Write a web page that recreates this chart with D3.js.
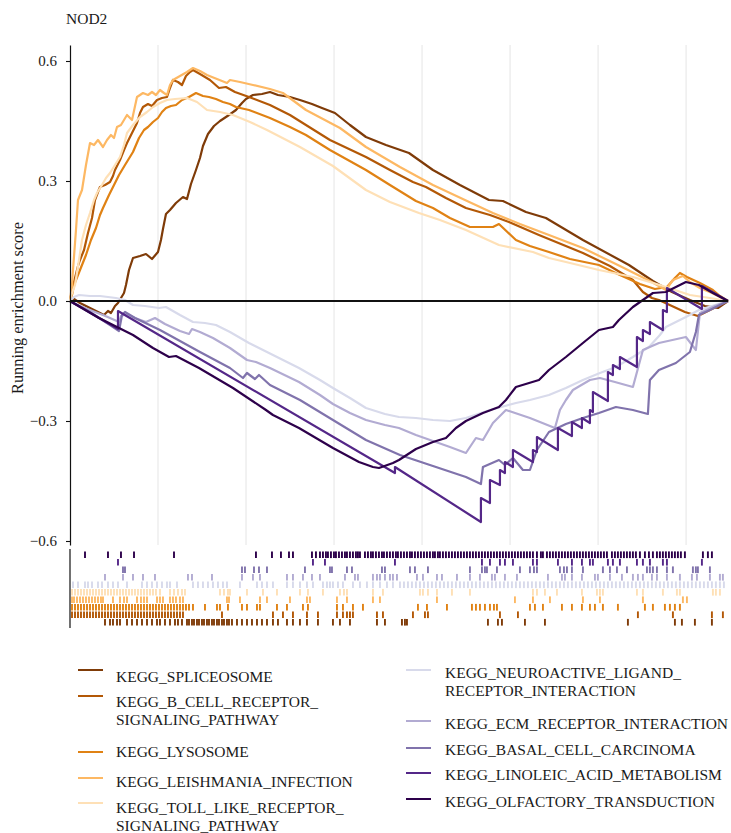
<!DOCTYPE html>
<html>
<head>
<meta charset="utf-8">
<script src="https://cdn.jsdelivr.net/npm/d3@7"></script>
<style>
    body { margin: 0; background: #fff; }
    svg text { font-family: "Liberation Serif", "DejaVu Serif", serif; fill: #1a1a1a; }
</style>
</head>
<body>
<div id="chart"></div>
<script>
/* GSEA RUNNING ENRICHMENT SCORE PLOT FOR NOD2 */
const chartTitle = "NOD2";
const yTitle = "Running enrichment score";
const geneCount = 18690;
const gridRanks = [2500, 5000, 7500, 10000, 12500, 15000, 17500];
const esTicks = [0.6, 0.3, 0, -0.3, -0.6];

const pathways = [
    "KEGG_SPLICEOSOME",
    "KEGG_B_CELL_RECEPTOR_SIGNALING_PATHWAY",
    "KEGG_LYSOSOME",
    "KEGG_LEISHMANIA_INFECTION",
    "KEGG_TOLL_LIKE_RECEPTOR_SIGNALING_PATHWAY",
    "KEGG_NEUROACTIVE_LIGAND_RECEPTOR_INTERACTION",
    "KEGG_ECM_RECEPTOR_INTERACTION",
    "KEGG_BASAL_CELL_CARCINOMA",
    "KEGG_LINOLEIC_ACID_METABOLISM",
    "KEGG_OLFACTORY_TRANSDUCTION"
];
const legendLabels = [
    ["KEGG_SPLICEOSOME"],
    ["KEGG_B_CELL_RECEPTOR_", "SIGNALING_PATHWAY"],
    ["KEGG_LYSOSOME"],
    ["KEGG_LEISHMANIA_INFECTION"],
    ["KEGG_TOLL_LIKE_RECEPTOR_", "SIGNALING_PATHWAY"],
    ["KEGG_NEUROACTIVE_LIGAND_", "RECEPTOR_INTERACTION"],
    ["KEGG_ECM_RECEPTOR_INTERACTION"],
    ["KEGG_BASAL_CELL_CARCINOMA"],
    ["KEGG_LINOLEIC_ACID_METABOLISM"],
    ["KEGG_OLFACTORY_TRANSDUCTION"]
];
const pathwayColors = ["#7f3b08", "#b35806", "#e08214", "#fdb863", "#fee0b6",
                       "#d8daeb", "#b2abd2", "#8073ac", "#542788", "#2d004b"];

// Running enrichment score: [gene rank, ES]
const esSpliceosome = [[0,0],[114,0.005],[284,-0.005],[568,-0.0175],[852,-0.03],[966,-0.035],[1079,-0.025],[1164,-0.03],[1278,-0.0125],[1363,-0.005],[1448,0.0075],[1534,0.02],[1590,0.04],[1676,0.0775],[1789,0.1075],[1988,0.1125],[2158,0.1175],[2329,0.105],[2499,0.1225],[2584,0.1525],[2641,0.18],[2726,0.2175],[2840,0.2275],[3010,0.245],[3209,0.26],[3323,0.255],[3436,0.2925],[3578,0.3275],[3692,0.3575],[3777,0.3875],[3919,0.4175],[4090,0.4375],[4260,0.45],[4516,0.465],[4714,0.4775],[4885,0.495],[4998,0.505],[5197,0.515],[5453,0.5175],[5680,0.5225],[5907,0.515],[6248,0.51],[6532,0.5025],[6873,0.4925],[7157,0.4825],[7526,0.47],[7952,0.44],[8406,0.41],[8974,0.39],[9628,0.37],[10309,0.3275],[11076,0.29],[11900,0.2525],[12297,0.25],[12950,0.2225],[13518,0.2075],[14569,0.1525],[15876,0.09],[16557,0.05],[17097,0.0225],[17608,0.0025],[18034,-0.0125],[18403,-0.0175],[18690,0]];
const esBCell = [[0,0],[57,0.0275],[142,0.0575],[227,0.0875],[284,0.1025],[398,0.1275],[511,0.17],[625,0.2075],[710,0.2525],[795,0.2725],[852,0.285],[994,0.29],[1136,0.2975],[1221,0.3125],[1278,0.3275],[1420,0.3525],[1534,0.3775],[1619,0.395],[1761,0.42],[1903,0.445],[1988,0.47],[2073,0.485],[2215,0.4925],[2329,0.4875],[2471,0.5025],[2613,0.5075],[2755,0.51],[2840,0.5325],[2925,0.5525],[3067,0.5475],[3181,0.54],[3294,0.5625],[3408,0.5725],[3493,0.5775],[3692,0.5675],[3976,0.5525],[4232,0.5325],[4430,0.535],[4686,0.5225],[5084,0.51],[5680,0.49],[6248,0.465],[6702,0.44],[7384,0.4025],[8406,0.36],[9088,0.3275],[9741,0.2975],[10110,0.285],[10678,0.2575],[11246,0.2325],[11928,0.215],[12468,0.1975],[13320,0.165],[14569,0.12],[15336,0.0875],[15989,0.0525],[16273,0.0225],[16529,0.0075],[16728,0.0025],[17097,-0.0125],[17466,-0.0275],[17835,-0.0375],[18176,-0.0225],[18690,0]];
const esLysosome = [[0,0],[57,0.015],[114,0.04],[284,0.0775],[454,0.115],[596,0.1525],[738,0.1825],[852,0.215],[937,0.2325],[1108,0.265],[1250,0.29],[1392,0.315],[1562,0.34],[1789,0.3725],[1960,0.4075],[2102,0.4275],[2215,0.435],[2357,0.4475],[2499,0.4575],[2613,0.4725],[2726,0.4825],[2868,0.4875],[3010,0.49],[3181,0.5025],[3380,0.51],[3578,0.52],[3777,0.5125],[3948,0.51],[4146,0.505],[4345,0.4975],[4544,0.4925],[4714,0.485],[5084,0.4775],[5680,0.4575],[6248,0.435],[6702,0.415],[7384,0.3775],[8406,0.3275],[9088,0.29],[9826,0.25],[10309,0.2325],[10792,0.2075],[11360,0.185],[12013,0.185],[12184,0.1925],[12666,0.1525],[13064,0.1375],[13604,0.1225],[14200,0.105],[15024,0.09],[15620,0.065],[16188,0.0425],[16614,0.03],[16955,0.035],[17182,0.0575],[17324,0.07],[17523,0.06],[17892,0.045],[18261,0.0275],[18460,0.0125],[18690,0]];
const esLeishmania = [[0,0],[57,0.04],[85,0.0775],[170,0.1775],[227,0.2525],[341,0.2775],[454,0.34],[568,0.395],[682,0.39],[795,0.4025],[937,0.385],[1051,0.4025],[1164,0.415],[1250,0.4075],[1335,0.435],[1448,0.44],[1619,0.465],[1761,0.4525],[1903,0.51],[2073,0.52],[2215,0.515],[2329,0.5225],[2442,0.515],[2556,0.5275],[2670,0.52],[2755,0.515],[2840,0.54],[2925,0.5525],[3124,0.5625],[3323,0.5725],[3493,0.5825],[3692,0.575],[3891,0.565],[4175,0.555],[4459,0.545],[4544,0.5525],[4828,0.5475],[5197,0.54],[5680,0.53],[6049,0.52],[6702,0.4775],[7668,0.4325],[8406,0.385],[9372,0.335],[10309,0.29],[11218,0.2525],[12013,0.22],[12780,0.1925],[13604,0.165],[14569,0.1325],[15620,0.0875],[16472,0.05],[16926,0.0275],[17125,0.0525],[17409,0.0625],[17608,0.0475],[17892,0.0325],[18233,0.02],[18460,0.01],[18690,0]];
const esToll = [[0,0],[57,0.02],[142,0.04],[256,0.1025],[341,0.1525],[454,0.19],[568,0.22],[682,0.2525],[767,0.27],[909,0.29],[1022,0.3075],[1136,0.32],[1278,0.34],[1420,0.36],[1534,0.39],[1619,0.42],[1789,0.44],[1988,0.46],[2187,0.4725],[2357,0.485],[2556,0.495],[2755,0.5025],[2982,0.505],[3323,0.5075],[3607,0.4975],[3891,0.4775],[4260,0.4725],[4629,0.465],[5112,0.4475],[5595,0.4275],[6532,0.385],[7469,0.3375],[8406,0.2775],[9088,0.2475],[9912,0.22],[10508,0.2025],[11246,0.1775],[12184,0.14],[13149,0.1225],[13604,0.1075],[14086,0.0975],[15024,0.0775],[15989,0.06],[16756,0.04],[17608,0.015],[18176,0.0075],[18690,0]];
const esNeuroactive = [[0,0],[114,0.01],[256,0.015],[568,0.0125],[852,0.0125],[1306,0.0075],[1562,0.0025],[1789,-0.01],[2130,-0.0125],[2528,-0.0175],[2726,-0.015],[3124,-0.035],[3493,-0.0525],[3834,-0.055],[4146,-0.06],[4544,-0.0775],[5084,-0.105],[5822,-0.1375],[6504,-0.1675],[7100,-0.1975],[7469,-0.2175],[7952,-0.2425],[8406,-0.2675],[8946,-0.2825],[9344,-0.29],[9826,-0.2925],[10309,-0.2975],[10792,-0.3],[11246,-0.2925],[11928,-0.2725],[12666,-0.255],[13064,-0.2475],[13604,-0.235],[14086,-0.2175],[14569,-0.1975],[15052,-0.18],[15506,-0.165],[15989,-0.14],[16444,-0.115],[16756,-0.085],[16926,-0.065],[17210,-0.0525],[17494,-0.04],[17864,-0.0225],[18233,-0.0125],[18690,0]];
const esEcm = [[0,0],[85,-0.005],[426,-0.0175],[710,-0.0275],[937,-0.035],[1136,-0.0425],[1392,-0.0525],[1448,-0.0375],[1619,-0.0325],[1846,-0.0425],[2158,-0.0525],[2414,-0.0425],[2698,-0.0575],[3124,-0.075],[3380,-0.0825],[3465,-0.07],[3692,-0.0775],[4061,-0.0925],[4544,-0.1175],[5027,-0.1475],[5282,-0.1525],[5680,-0.1675],[6504,-0.2025],[7100,-0.235],[7469,-0.2575],[7952,-0.28],[8406,-0.2975],[8946,-0.31],[9344,-0.3175],[9826,-0.335],[10309,-0.35],[10792,-0.365],[11246,-0.38],[11530,-0.3425],[11729,-0.3475],[12013,-0.305],[12382,-0.2725],[13064,-0.2925],[13774,-0.3175],[13916,-0.2725],[14086,-0.2475],[14285,-0.2225],[14768,-0.1975],[15052,-0.1925],[15478,-0.2025],[15989,-0.215],[16273,-0.1225],[16728,-0.105],[17494,-0.09],[17778,-0.1225],[17892,-0.03],[18318,-0.0125],[18690,0]];
const esBasal = [[0,0],[568,-0.0275],[1136,-0.06],[1392,-0.075],[1477,-0.035],[1562,-0.0275],[1846,-0.0425],[2556,-0.0725],[3692,-0.1275],[4544,-0.1675],[4913,-0.1925],[5027,-0.18],[5254,-0.195],[5368,-0.185],[5680,-0.21],[6532,-0.2475],[7469,-0.2975],[8406,-0.3475],[9372,-0.385],[10309,-0.4125],[11246,-0.44],[11672,-0.4575],[11729,-0.415],[12184,-0.3975],[12354,-0.41],[12582,-0.3925],[12865,-0.4225],[13064,-0.4225],[13263,-0.3725],[13604,-0.3275],[14086,-0.3075],[14569,-0.2925],[15024,-0.28],[15506,-0.265],[15989,-0.2725],[16415,-0.2825],[16472,-0.1975],[16728,-0.1725],[17210,-0.155],[17608,-0.1275],[17778,-0.0775],[17864,-0.035],[18176,-0.0225],[18460,-0.01],[18690,0]];
const esLinoleic = [[0,0],[1363,-0.07],[1363,-0.025],[9230,-0.43],[9230,-0.415],[11672,-0.5525],[11672,-0.4925],[11928,-0.505],[11928,-0.4475],[12212,-0.46],[12212,-0.4225],[12354,-0.43],[12354,-0.4025],[12581,-0.415],[12581,-0.3725],[13149,-0.4025],[13149,-0.3725],[13263,-0.3775],[13263,-0.34],[13859,-0.3725],[13859,-0.3175],[14257,-0.3375],[14257,-0.3025],[14541,-0.3175],[14541,-0.2925],[14768,-0.305],[14768,-0.2725],[14853,-0.2775],[14853,-0.2275],[15279,-0.25],[15279,-0.1775],[15421,-0.185],[15421,-0.16],[15620,-0.17],[15620,-0.14],[16103,-0.165],[16103,-0.09],[16273,-0.1],[16273,-0.0725],[16472,-0.0825],[16472,-0.0525],[16841,-0.0725],[16841,-0.0225],[16955,-0.0275],[16955,0.0325],[17949,-0.02],[17949,0.0375],[18690,0]];
const esOlfactory = [[0,0],[824,-0.0425],[1392,-0.0675],[1789,-0.085],[2357,-0.1175],[2812,-0.14],[3010,-0.1375],[3664,-0.1675],[4629,-0.2175],[5566,-0.2725],[5765,-0.285],[6504,-0.3175],[7469,-0.3675],[8208,-0.4025],[8605,-0.415],[8776,-0.4175],[9173,-0.405],[9344,-0.3975],[9826,-0.37],[10309,-0.3525],[10678,-0.3425],[10962,-0.3175],[11246,-0.3],[11729,-0.28],[12184,-0.265],[12382,-0.2475],[12666,-0.215],[13320,-0.1975],[13604,-0.1725],[14086,-0.14],[14569,-0.105],[15024,-0.0725],[15421,-0.065],[15592,-0.0475],[15989,-0.015],[16273,0.0025],[16557,0.02],[16926,0.0225],[17210,0.035],[17494,0.0475],[17864,0.04],[18261,0.02],[18690,0]];

// Gene ranks of the members of each set (rug rows)
const hitsSpliceosome = [994,1136,1221,1335,1420,1619,1761,1903,2045,2187,2329,2471,2556,2698,2840,2982,3067,3181,3323,3380,3465,3522,3607,3664,3749,3806,3891,3948,4033,4090,4175,4232,4317,4374,4459,4516,4601,4743,4885,5027,5169,5311,5453,5595,5765,5907,6163,6333,6532,6731,7043,7469,7668,7952,8719,8946,9429,9514,9571,11871,12155,12269,12922,13490,15847,17182,17381,17750,18233];
const hitsBCell = [57,142,227,312,398,483,568,653,738,824,909,994,1079,1164,1250,1335,1420,1505,1590,1676,1761,1846,1931,2016,2102,2187,2272,2357,2442,2528,2613,2698,2783,2868,2954,3039,3124,3209,4317,5765,6049,6333,6731,7043,7583,7753,7867,7952,8037,8719,8889,9741,10082,10167,12212,12723,16131,17125,18233,18545];
const hitsLysosome = [57,142,227,312,398,483,568,653,738,824,909,994,1079,1164,1250,1335,1420,1505,1590,1676,1761,1846,1931,2016,2102,2187,2272,2357,2442,2528,2613,2698,2783,2868,2954,3039,3124,3209,3294,3380,3493,3834,4175,4260,4487,4885,5027,5311,5396,5879,6163,6617,6759,7583,7753,8037,8321,9883,10139,10707,11417,11530,11644,11786,11928,12042,12127,13064,13206,13433,13973,14257,14541,14768,14910,15137,15563,16330,16557,16898,17040,17182,17324];
const hitsLeishmania = [57,114,199,284,369,454,540,625,710,795,880,937,1221,1420,1534,1619,1903,2016,2102,2187,2471,2556,2641,2840,2925,3010,3124,3209,4459,4516,4828,5396,5595,6248,6731,6816,7583,7867,8605,8804,10423,12638,13149,13632,14569,15052,16273,17409,17523];
const hitsToll = [57,142,227,312,398,483,568,653,738,824,909,994,1079,1164,1250,1335,1420,1505,1590,1676,1761,1846,1931,2016,2102,2187,2272,2357,2442,2556,2840,2954,3067,3181,3266,4260,4374,4487,4544,5027,5481,5879,6532,6759,7185,7668,7782,7867,8605,8889,9940,10025,10167,10423,10849,11360,13149,13263,13490,13831,14541,14967,15052,15137,16103,16273,16841,17239,17324,18261,18346,18460];
const hitsNeuroactive = [85,227,426,511,625,795,909,1079,1221,1363,1619,2045,2187,2329,2471,2613,2755,2840,3039,3493,3635,3777,3919,4061,4203,4345,4459,4828,5311,5453,5595,5765,6163,6333,6532,6731,6901,7185,7299,7384,7469,7611,7753,8037,8236,8435,8605,8804,9003,9173,9372,9486,9599,9713,9826,9940,10054,10167,10281,10394,10508,10622,10735,10849,10962,11076,11190,11303,11417,11530,11644,11758,11871,11985,12098,12212,12326,12439,12553,12666,12780,12894,13007,13121,13234,13348,13462,13575,13689,13802,13916,14030,14143,14257,14370,14484,14598,14711,14825,14938,15052,15166,15279,15393,15506,15620,15734,15847,15961,16074,16188,16302,16415,16529,16642,16756,16870,16983,17097,17210,17324,17438,17551,17665,17778,17892,18006,18119,18233,18346,18460,18574];
const hitsEcm = [994,1505,1789,2073,2414,3351,3465,4033,4885,5197,5396,6163,6333,6617,6873,7100,7810,8094,8179,8605,8719,8804,8946,9088,9173,9287,9855,10025,10423,10565,10991,11360,11644,11985,12070,12354,12695,13575,13973,14058,14257,14541,14910,14995,15336,15677,15989,16131,16273,16529,16671,16955,17324,17665,17807,18176,18460,18545];
const hitsBasal = [1505,1562,4885,4970,5226,5368,5595,6674,7384,7441,7867,8009,8861,8946,9656,9798,10167,11360,11701,11786,11843,12127,12780,13064,13178,13263,13916,14030,14115,14257,14569,15137,15336,15535,15819,16387,16472,16557,16671,16955,17125,17693,17778,17835,18176];
const hitsLinoleic = [1363,6901,7242,9230,11701,11928,12212,12354,12581,13149,13263,13859,14257,14541,14768,14853,15279,15421,15620,16103,16273,16472,16841,16955,17949];
const hitsOlfactory = [426,1079,1448,1818,2954,5282,5737,5992,6220,6333,6873,6986,7100,7185,7270,7327,7412,7498,7554,7640,7725,7810,7867,7952,8037,8122,8179,8236,8378,8463,8548,8605,8690,8776,8861,8918,9003,9088,9173,9258,9315,9400,9486,9571,9656,9713,9798,9883,9968,10054,10139,10224,10309,10366,10451,10508,10593,10678,10764,10849,10934,11019,11104,11190,11275,11360,11445,11530,11616,11701,11786,11871,11956,12042,12127,12212,12297,12382,12468,12553,12638,12723,12808,12894,12979,13064,13149,13263,13376,13433,13547,13632,13717,13802,13888,13973,14058,14143,14228,14314,14399,14484,14569,14654,14740,14825,14910,14995,15080,15166,15251,15393,15478,15563,15648,15734,15819,15904,15989,16074,16188,16330,16444,16557,16671,16756,16841,16926,17012,17097,17182,17267,17352,17466,17977,18119,18233];

const esSeries = [esSpliceosome, esBCell, esLysosome, esLeishmania, esToll,
                  esNeuroactive, esEcm, esBasal, esLinoleic, esOlfactory];
const hitSeries = [hitsSpliceosome, hitsBCell, hitsLysosome, hitsLeishmania, hitsToll,
                   hitsNeuroactive, hitsEcm, hitsBasal, hitsLinoleic, hitsOlfactory];

const sets = pathways.map((name, i) => ({
    name: name,
    label: legendLabels[i],
    color: pathwayColors[i],
    es: esSeries[i],
    hits: hitSeries[i]
}));

// Layout
const graph = {width: 731, height: 833};
graph.plot = {left: 70, right: 728, top: 45, bottom: 545};
graph.rug = {top: 551, rowHeight: 7.5};
graph.legend = {
    keyX: [78, 406],
    keyLength: 25,
    textX: [116, 445],
    keyY: [670, 696, 752, 778, 803, 670, 721, 748, 773, 799],
    textY: [682, 707, 757, 787, 813, 678, 729, 755, 780, 807],
    lineHeight: 18
};

const svg = d3.select("#chart")
    .append("svg")
    .attr("width", graph.width)
    .attr("height", graph.height);

svg.append("rect")
    .attr("width", graph.width)
    .attr("height", graph.height)
    .attr("fill", "#fff");

const x = d3.scaleLinear()
    .domain([0, geneCount])
    .range([graph.plot.left, graph.plot.right]);

const y = d3.scaleLinear()
    .domain([-0.61, 0.64])
    .range([graph.plot.bottom, graph.plot.top]);

// Title
svg.append("text")
    .attr("x", 66)
    .attr("y", 24)
    .attr("font-size", 15.5)
    .text(chartTitle);

// Vertical grid lines (major + minor)
svg.append("g")
    .selectAll("line")
    .data(gridRanks)
    .join("line")
    .attr("x1", d => x(d))
    .attr("x2", d => x(d))
    .attr("y1", graph.plot.top)
    .attr("y2", graph.plot.bottom)
    .attr("stroke", "#ebebeb")
    .attr("stroke-width", 1.3);

// Running enrichment score curves
const line = d3.line()
    .x(d => x(d[0]))
    .y(d => y(d[1]));

svg.append("g")
    .selectAll("path")
    .data(sets)
    .join("path")
    .attr("d", d => line(d.es))
    .attr("fill", "none")
    .attr("stroke", d => d.color)
    .attr("stroke-width", 2.2)
    .attr("stroke-linejoin", "round");

// Zero line
svg.append("line")
    .attr("x1", graph.plot.left)
    .attr("x2", graph.plot.right)
    .attr("y1", y(0))
    .attr("y2", y(0))
    .attr("stroke", "#111")
    .attr("stroke-width", 1.8);

// Y axis
const yAxis = svg.append("g")
    .attr("transform", `translate(${graph.plot.left}, 0)`)
    .call(d3.axisLeft(y)
        .tickValues(esTicks)
        .tickFormat(d3.format(".1f"))
        .tickSize(4)
        .tickSizeOuter(0)
        .tickPadding(9));
yAxis.select(".domain").attr("stroke", "#111").attr("stroke-width", 1.2);
yAxis.selectAll(".tick line").attr("stroke", "#111").attr("stroke-width", 1.1);
yAxis.selectAll(".tick text")
    .attr("font-size", 15)
    .attr("font-family", "Liberation Serif, DejaVu Serif, serif")
    .attr("fill", "#1a1a1a");

svg.append("text")
    .attr("transform", `translate(17.5, 308) rotate(-90)`)
    .attr("text-anchor", "middle")
    .attr("dominant-baseline", "central")
    .attr("font-size", 16.3)
    .text(yTitle);

// Rug of gene-set members, darkest set on top
const rugRows = svg.append("g");
sets.forEach((s, i) => {
    const row = sets.length - 1 - i;
    const y0 = graph.rug.top + row * graph.rug.rowHeight;
    rugRows.append("g")
        .selectAll("line")
        .data(s.hits)
        .join("line")
        .attr("x1", d => x(d))
        .attr("x2", d => x(d))
        .attr("y1", y0 + 0.4)
        .attr("y2", y0 + graph.rug.rowHeight - 0.4)
        .attr("stroke", s.color)
        .attr("stroke-width", 1.9);
});

svg.append("line")
    .attr("x1", graph.plot.left)
    .attr("x2", graph.plot.left)
    .attr("y1", 549)
    .attr("y2", 628)
    .attr("stroke", "#111")
    .attr("stroke-width", 1.2);

// Legend in two columns
const legend = svg.append("g");
sets.forEach((s, i) => {
    const col = i < 5 ? 0 : 1;
    const ky = graph.legend.keyY[i];
    legend.append("line")
        .attr("x1", graph.legend.keyX[col])
        .attr("x2", graph.legend.keyX[col] + graph.legend.keyLength)
        .attr("y1", ky)
        .attr("y2", ky)
        .attr("stroke", s.color)
        .attr("stroke-width", 2);
    const t = legend.append("text")
        .attr("x", graph.legend.textX[col])
        .attr("y", graph.legend.textY[i])
        .attr("font-size", 15.5);
    s.label.forEach((part, j) => {
        t.append("tspan")
            .attr("x", graph.legend.textX[col])
            .attr("dy", j === 0 ? 0 : graph.legend.lineHeight)
            .text(part);
    });
});
</script>
</body>
</html>
